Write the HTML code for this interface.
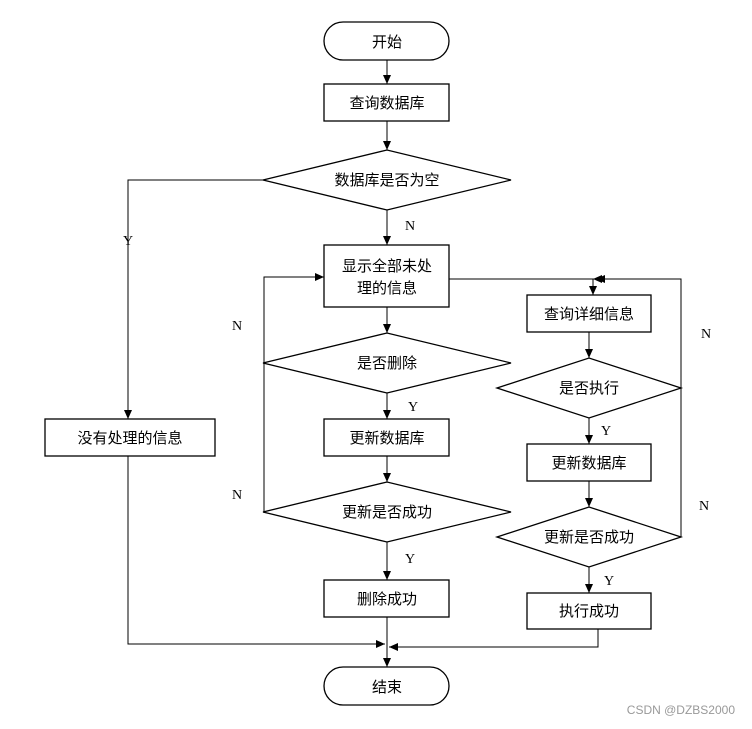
<!DOCTYPE html>
<html><head><meta charset="utf-8"><style>
html,body{margin:0;padding:0;background:#fff;}
svg text{font-family:"Liberation Sans","Noto Sans CJK SC",sans-serif;font-size:15px;fill:#000;}
.l{font-family:"Liberation Serif",serif;font-size:14px;}
</style></head><body>
<svg width="752" height="724" viewBox="0 0 752 724" xmlns="http://www.w3.org/2000/svg">
<defs><marker id="a" markerWidth="10" markerHeight="10" refX="9" refY="5" orient="auto" markerUnits="userSpaceOnUse"><path d="M0,1 L9,5 L0,9 z" fill="#000"/></marker></defs>
<g fill="none" stroke="#000" stroke-width="1.3">
<rect x="324" y="22" width="125" height="38" rx="19"/>
<rect x="324" y="84" width="125" height="37"/>
<polygon points="263,180 387,150 511,180 387,210"/>
<rect x="324" y="245" width="125" height="62"/>
<polygon points="263,363 387,333 511,363 387,393"/>
<rect x="324" y="419" width="125" height="37"/>
<polygon points="263,512 387,482 511,512 387,542"/>
<rect x="324" y="580" width="125" height="37"/>
<rect x="324" y="667" width="125" height="38" rx="19"/>
<rect x="45" y="419" width="170" height="37"/>
<rect x="527" y="295" width="124" height="37"/>
<polygon points="497,388 589,358 681,388 589,418"/>
<rect x="527" y="444" width="124" height="37"/>
<polygon points="497,537 589,507 681,537 589,567"/>
<rect x="527" y="593" width="124" height="36"/>
</g>
<g fill="none" stroke="#000" stroke-width="1" marker-end="url(#a)">
<line x1="387" y1="60" x2="387" y2="84"/>
<line x1="387" y1="121" x2="387" y2="150"/>
<line x1="387" y1="210" x2="387" y2="245"/>
<polyline points="263,180 128,180 128,419"/>
<line x1="387" y1="307" x2="387" y2="333"/>
<line x1="387" y1="393" x2="387" y2="419"/>
<line x1="387" y1="456" x2="387" y2="482"/>
<line x1="387" y1="542" x2="387" y2="580"/>
<line x1="387" y1="617" x2="387" y2="667"/>
<polyline points="264,512 264,277 324,277"/>
<polyline points="449,279 593,279 593,295"/>
<polyline points="681,388 681,279 593,279"/>
<polyline points="681,537 681,279 596,279"/>
<line x1="589" y1="332" x2="589" y2="358"/>
<line x1="589" y1="418" x2="589" y2="444"/>
<line x1="589" y1="481" x2="589" y2="507"/>
<line x1="589" y1="567" x2="589" y2="593"/>
<polyline points="128,456 128,644 385,644"/>
<polyline points="598,629 598,647 389,647"/>
</g>
<g text-anchor="middle">
<text x="387" y="47">开始</text>
<text x="387" y="108">查询数据库</text>
<text x="387" y="185">数据库是否为空</text>
<text x="387" y="271">显示全部未处</text>
<text x="387" y="293">理的信息</text>
<text x="387" y="368">是否删除</text>
<text x="387" y="443">更新数据库</text>
<text x="387" y="517">更新是否成功</text>
<text x="387" y="604">删除成功</text>
<text x="387" y="692">结束</text>
<text x="130" y="443">没有处理的信息</text>
<text x="589" y="319">查询详细信息</text>
<text x="589" y="393">是否执行</text>
<text x="589" y="468">更新数据库</text>
<text x="589" y="542">更新是否成功</text>
<text x="589" y="616">执行成功</text>
</g>
<g class="l">
<text class="l" x="123" y="245">Y</text>
<text class="l" x="405" y="230">N</text>
<text class="l" x="232" y="330">N</text>
<text class="l" x="232" y="499">N</text>
<text class="l" x="408" y="411">Y</text>
<text class="l" x="601" y="435">Y</text>
<text class="l" x="405" y="563">Y</text>
<text class="l" x="604" y="585">Y</text>
<text class="l" x="701" y="338">N</text>
<text class="l" x="699" y="510">N</text>
</g>
<text x="735" y="714" text-anchor="end" style="font-size:12px;fill:#999;">CSDN @DZBS2000</text>
</svg>
</body></html>
